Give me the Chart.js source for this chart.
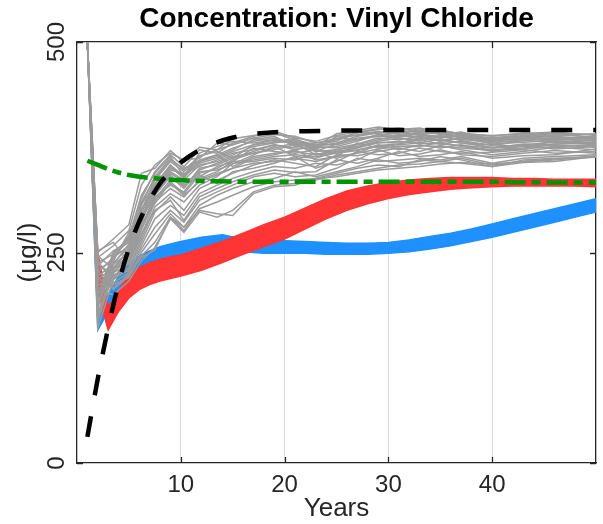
<!DOCTYPE html>
<html><head><meta charset="utf-8">
<script src="https://cdn.jsdelivr.net/npm/chart.js@4"></script>
<style>html,body{margin:0;padding:0;background:#fff}</style>
</head><body>
<canvas id="c" width="603" height="524"></canvas>
<script>
// ---- data ----
const years = [1,2,3,4,5,6,7,8,9,10,12,14,16,18,20,22,24,26,28,30,32,34,36,38,40,42,44,46,48,50];
const blackCurve = [31,100,160,213,255,287,312,332,346,357,373,383,389,392,393.5,394,394.5,395,395,395.5,395.5,395.5,395.5,395.5,395.5,395.5,395.5,395.5,395.5,395.5];
const greenCurve = [359,354,349,345,342,340,338.5,337.5,336.5,336,335,334.5,334,334,334,334,334,334,334,334,334,334,334,334,334,333.5,333.5,333,333,333];
const redLow  = [500,205,158,180,196,206,212,216,219,222,229,238,248,257,266,278,290,300,308,314,319,322,325,327,328,329,329,329,329,328];
const redHigh = [500,250,185,205,222,232,238,242,245,247,255,263,273,283,292,303,314,323,329,333,336,338,339,339,339,338,338,337,337,337];
const blueLow  = [500,158,180,200,215,226,233,239,243,247,253,256,251,249,249,249,248,248,248,249,251,254,258,263,268,274,280,286,292,298];
const blueHigh = [500,172,200,222,236,246,252,257,260,263,268,271,266,264,264,263,262,261,261,262,265,269,273,278,284,290,296,302,308,314];

const grayYears = [1,2,3.5,5,6.2,7.5,9,10.3,11.8,13.5,15,17,19,21,23,25,27,29,31,33,35,37,40,43,46,50];
const grayRuns = [
  [500,250,266,283,344,350,371,357,375,372,385,389,392,384,376,391,395,399,396,398,393,392,388,392,391,390],
  [500,244,258,276,330,354,368,360,362,380,378,386,390,388,380,385,392,396,398,394,396,390,386,390,389,391],
  [500,238,248,268,318,344,364,340,368,376,382,380,384,381,372,388,389,393,392,397,390,393,384,387,392,386],
  [500,234,252,262,310,338,360,350,358,364,372,384,388,376,378,382,394,391,388,393,394,386,387,385,384,388],
  [500,230,240,274,300,332,352,338,365,370,362,378,381,386,370,379,386,388,393,389,387,389,381,383,386,382],
  [500,226,244,258,292,326,348,344,352,360,368,372,378,374,374,376,382,390,386,384,389,384,383,388,380,384],
  [500,222,236,250,288,320,342,328,348,356,364,368,374,380,366,372,378,384,389,387,382,387,379,381,383,379],
  [500,218,232,246,282,342,338,330,340,352,358,374,370,368,372,368,375,380,382,380,385,380,378,376,382,381],
  [500,214,228,240,276,316,330,322,346,348,355,366,376,364,362,370,372,377,379,384,379,382,374,379,377,377],
  [500,210,226,236,270,310,326,316,336,344,350,362,366,372,360,364,380,374,376,376,381,376,372,374,378,375],
  [500,206,222,232,266,304,320,310,330,340,356,358,362,360,368,362,368,378,372,378,374,378,370,377,373,376],
  [500,202,218,230,262,298,316,300,326,336,344,354,360,356,352,366,365,370,374,370,377,372,366,370,375,372],
  [500,246,230,244,284,308,334,320,342,332,346,350,356,364,350,358,370,366,368,374,370,368,369,372,368,370],
  [500,240,214,226,258,290,306,294,320,330,338,346,352,350,356,354,360,372,365,367,372,366,364,368,371,368],
  [500,252,262,238,272,300,312,288,316,326,334,342,348,345,346,360,356,362,370,364,366,370,362,365,366,373],
  [500,236,224,228,254,280,300,286,312,322,330,340,344,340,342,350,362,358,360,362,360,364,356,362,364,366],
  [500,228,206,222,250,272,296,280,306,318,326,334,338,346,340,346,352,360,356,358,364,360,352,360,362,364],
  [500,212,212,220,246,262,292,276,302,310,318,328,334,336,338,344,350,354,352,360,358,362,354,358,360,365],
  [500,204,200,216,240,256,290,274,298,292,300,322,330,332,336,342,346,350,354,355,358,356,352,357,358,364],
  [500,220,208,224,244,253,292,280,300,296,294,320,328,330,338,340,344,348,350,352,355,357,355,358,361,363],
  [500,186,238,256,300,336,358,346,360,366,374,382,386,378,380,384,390,394,390,392,391,388,385,389,387,386],
  [500,176,232,252,296,330,354,340,356,362,370,378,384,382,376,380,388,392,394,390,388,390,382,386,388,384],
  [500,196,246,264,306,340,362,348,364,372,378,386,382,380,374,386,384,390,392,395,392,386,384,384,390,387],
  [500,168,226,248,286,324,346,336,354,358,366,376,380,384,378,378,384,388,387,391,386,390,383,387,385,385],
  [500,190,242,270,314,346,366,352,372,368,380,388,394,386,382,389,393,397,395,393,395,391,389,391,393,389],
  [500,180,220,242,280,318,340,326,350,354,362,370,378,372,376,374,379,386,384,388,384,385,380,384,384,383],
  [500,172,230,254,294,314,336,332,344,350,360,368,372,378,370,372,376,382,386,382,388,383,377,383,381,380],
  [500,198,250,266,308,328,350,342,358,366,352,364,368,370,366,370,374,381,380,386,383,380,375,378,381,378],
  [500,184,236,260,302,322,344,334,338,346,358,360,364,366,364,368,371,376,378,380,379,377,374,376,379,380],
  [500,160,218,238,278,312,332,318,334,342,350,356,358,362,358,364,368,373,376,377,376,374,371,373,376,377]
];

const xTicks = [10,20,30,40];
const yTicks = [0,250,500];
const titleText = 'Concentration: Vinyl Chloride';
const xLabel = 'Years';
const yLabel = '(μg/l)';

// ---- styling ----
const FONT = '"Liberation Sans", Arial, Helvetica, sans-serif';
const AX = '#262626';
const RED = 'rgb(255,52,52)';
const BLUE = 'rgb(30,144,255)';
const GRAY = 'rgb(155,155,155)';
const TL = 6;

const pts = (xs, ys) => xs.map((x, i) => ({x: x, y: ys[i]}));
const common = {xAxisID: 'x', yAxisID: 'y', pointRadius: 0, clip: 0};

const datasets = [];
datasets.push(Object.assign({}, common, {data: pts(years, blueLow), borderColor: BLUE, borderWidth: 1.5, fill: false, tension: 0, order: 6}));
datasets.push(Object.assign({}, common, {data: pts(years, blueHigh), borderColor: BLUE, borderWidth: 1.5, backgroundColor: BLUE, fill: '-1', tension: 0, order: 6}));
datasets.push(Object.assign({}, common, {data: pts(years, redLow), borderColor: RED, borderWidth: 1.5, fill: false, tension: 0, order: 5}));
datasets.push(Object.assign({}, common, {data: pts(years, redHigh), borderColor: RED, borderWidth: 1.5, backgroundColor: RED, fill: '-1', tension: 0, order: 5}));
grayRuns.forEach(run => {
  datasets.push(Object.assign({}, common, {data: pts(grayYears, run), borderColor: GRAY, borderWidth: 1.5, fill: false, tension: 0, order: 4}));
});
datasets.push(Object.assign({}, common, {data: pts(years, greenCurve), borderColor: '#009400', borderWidth: 4.5, borderDash: [21, 6, 9, 6], fill: false, cubicInterpolationMode: 'monotone', order: 2}));
datasets.push(Object.assign({}, common, {data: pts(years, blackCurve), borderColor: '#000', borderWidth: 4.5, borderDash: [21, 21], fill: false, cubicInterpolationMode: 'monotone', order: 1}));

const setX = s => { s.ticks = xTicks.map(v => ({value: v})); };
const setY = s => { s.ticks = yTicks.map(v => ({value: v})); };
const noTicks = {drawOnChartArea: false, drawTicks: false};
const border = {color: AX, width: 1.3};

// inward tick marks on all four sides (MATLAB style), placed with the chart's scales
const inwardTicks = {
  id: 'inwardTicks',
  afterDatasetsDraw(chart) {
    const {ctx, chartArea: a, scales} = chart;
    ctx.save();
    ctx.strokeStyle = AX; ctx.lineWidth = 1.3;
    ctx.beginPath();
    scales.x.ticks.forEach(t => {
      const px = Math.round(scales.x.getPixelForValue(t.value)) + 0.5;
      ctx.moveTo(px, a.bottom); ctx.lineTo(px, a.bottom - TL);
      ctx.moveTo(px, a.top); ctx.lineTo(px, a.top + TL);
    });
    scales.y.ticks.forEach(t => {
      const py = Math.round(scales.y.getPixelForValue(t.value)) + 0.5;
      ctx.moveTo(a.left, py); ctx.lineTo(a.left + TL, py);
      ctx.moveTo(a.right, py); ctx.lineTo(a.right - TL, py);
    });
    ctx.stroke();
    ctx.restore();
  }
};

new Chart(document.getElementById('c'), {
  type: 'line',
  data: {datasets: datasets},
  plugins: [inwardTicks],
  options: {
    responsive: false,
    animation: false,
    devicePixelRatio: 1,
    layout: {padding: {left: 0, right: 7, top: 0, bottom: 0}},
    plugins: {legend: {display: false}, tooltip: {enabled: false}, title: {display: false}},
    scales: {
      x: {
        type: 'linear', position: 'bottom', min: 0, max: 50,
        afterBuildTicks: setX, afterFit: s => { s.height = 61; },
        grid: {drawOnChartArea: true, color: '#dedede', lineWidth: 1, drawTicks: false},
        border: border,
        ticks: {color: AX, font: {family: FONT, size: 24}, padding: 8, maxRotation: 0, autoSkip: false},
        title: {display: true, text: xLabel, color: AX, font: {family: FONT, size: 26}, padding: {top: 0, bottom: 0}}
      },
      xTop: {
        type: 'linear', position: 'top', min: 0, max: 50,
        afterBuildTicks: setX, afterFit: s => { s.height = 42; },
        grid: noTicks, border: border,
        ticks: {display: false},
        title: {display: true, text: titleText, color: '#000', font: {family: FONT, size: 28, weight: 'bold'}, padding: {top: 2, bottom: 0}}
      },
      y: {
        type: 'linear', position: 'left', min: 0, max: 500,
        afterBuildTicks: setY, afterFit: s => { s.width = 77; },
        grid: noTicks, border: border,
        ticks: {color: AX, font: {family: FONT, size: 24}, minRotation: 90, maxRotation: 90, crossAlign: 'center', padding: 0},
        title: {display: true, text: yLabel, color: AX, font: {family: FONT, size: 26}, padding: {top: 13, bottom: 0}}
      },
      yRight: {
        type: 'linear', position: 'right', min: 0, max: 500,
        afterBuildTicks: setY, afterFit: s => { s.width = 0; },
        grid: noTicks, border: border,
        ticks: {display: false}
      }
    }
  }
});
</script>
</body></html>
